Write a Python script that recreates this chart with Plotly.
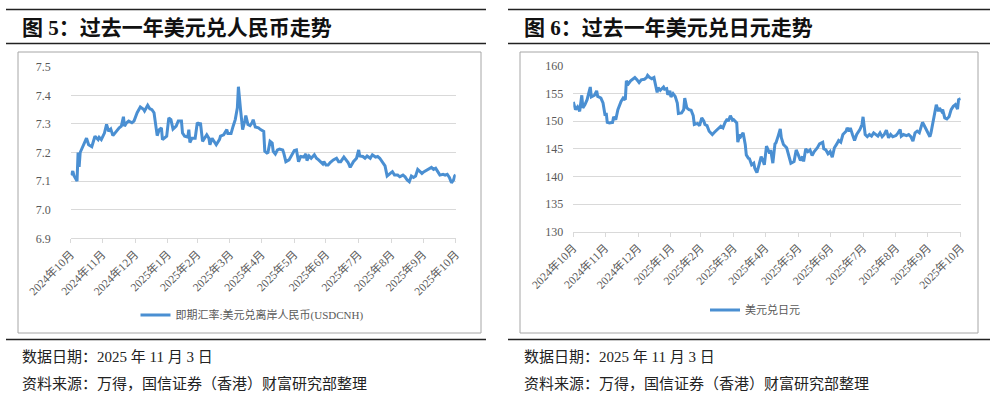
import pandas as pd
import plotly.graph_objects as go

W, H = 997, 398

# ---------------- data ----------------
start_date = "2024-10-31"
tick_labels = ["2024年10月", "2024年11月", "2024年12月", "2025年1月", "2025年2月", "2025年3月",
               "2025年4月", "2025年5月", "2025年6月", "2025年7月", "2025年8月", "2025年9月", "2025年10月"]

# day offsets from start_date and USDCNH values
cnh_day = [0, 2, 3, 6, 7, 8, 9, 11, 14, 15, 17, 20, 23, 26, 27, 29, 32, 34, 36, 38,
           40, 43, 46, 48, 50, 51, 53, 55, 58, 60, 63, 66, 69, 70, 73, 75, 77, 79, 82, 84,
           86, 87, 89, 91, 93, 95, 97, 100, 102, 105, 106, 108, 111, 112, 113, 115, 118, 120, 122, 123,
           125, 127, 129, 131, 132, 134, 136, 138, 141, 142, 145, 146, 148, 149, 152, 154, 156, 158, 159, 161,
           163, 165, 166, 168, 170, 172, 173, 175, 178, 180, 183, 184, 186, 187, 189, 191, 192, 194, 196, 198,
           201, 202, 204, 207, 210, 212, 214, 216, 218, 221, 223, 224, 226, 228, 231, 233, 235, 237, 239, 240,
           242, 244, 246, 249, 252, 254, 256, 259, 261, 263, 265, 268, 271, 273, 274, 277, 279, 281, 284, 286,
           289, 291, 293, 296, 298, 300, 303, 305, 307, 310, 312, 315, 317, 319, 321, 323, 325, 327, 329, 331,
           333, 335, 338, 340, 342, 344, 346, 348, 350, 353, 355, 357, 359, 361, 363, 364, 365]
cnh_val = [7.121, 7.135, 7.120, 7.100, 7.200, 7.150, 7.200, 7.215, 7.240, 7.250, 7.227, 7.220, 7.257, 7.245, 7.253, 7.245, 7.268, 7.298, 7.274, 7.282,
           7.259, 7.274, 7.286, 7.292, 7.325, 7.292, 7.304, 7.310, 7.304, 7.310, 7.339, 7.359, 7.351, 7.345, 7.365, 7.353, 7.350, 7.339, 7.259, 7.280,
           7.286, 7.245, 7.250, 7.257, 7.321, 7.315, 7.282, 7.292, 7.310, 7.310, 7.268, 7.257, 7.254, 7.280, 7.235, 7.250, 7.250, 7.304, 7.298, 7.304,
           7.239, 7.250, 7.262, 7.250, 7.227, 7.250, 7.239, 7.227, 7.245, 7.257, 7.262, 7.268, 7.280, 7.266, 7.266, 7.292, 7.315, 7.356, 7.430, 7.351,
           7.280, 7.310, 7.329, 7.298, 7.294, 7.304, 7.315, 7.289, 7.286, 7.280, 7.274, 7.204, 7.198, 7.200, 7.239, 7.233, 7.204, 7.195, 7.209, 7.212,
           7.209, 7.198, 7.168, 7.174, 7.192, 7.207, 7.209, 7.168, 7.186, 7.184, 7.195, 7.172, 7.188, 7.180, 7.192, 7.180, 7.174, 7.168, 7.160, 7.168,
           7.156, 7.156, 7.165, 7.174, 7.180, 7.168, 7.168, 7.184, 7.174, 7.165, 7.148, 7.168, 7.180, 7.209, 7.188, 7.186, 7.180, 7.188, 7.180, 7.192,
           7.184, 7.186, 7.180, 7.165, 7.153, 7.118, 7.127, 7.133, 7.121, 7.121, 7.115, 7.121, 7.115, 7.104, 7.098, 7.118, 7.113, 7.118, 7.141, 7.133,
           7.127, 7.133, 7.139, 7.145, 7.148, 7.141, 7.145, 7.133, 7.121, 7.124, 7.121, 7.124, 7.113, 7.094, 7.104, 7.118, 7.122]

# day offsets from start_date and USDJPY values
jpy_day = [0, 2, 4, 6, 8, 9, 11, 13, 16, 17, 20, 22, 23, 26, 28, 30, 31, 32, 34, 37,
           38, 40, 42, 45, 47, 49, 50, 52, 54, 56, 58, 60, 62, 64, 67, 69, 70, 72, 74, 76,
           77, 79, 80, 82, 85, 86, 88, 89, 91, 92, 94, 96, 98, 99, 102, 104, 105, 107, 109, 111,
           113, 114, 117, 119, 121, 123, 124, 126, 128, 131, 133, 135, 137, 139, 141, 143, 145, 146, 148, 150,
           151, 154, 155, 157, 158, 160, 162, 163, 165, 166, 168, 170, 171, 173, 175, 177, 179, 180, 182, 185,
           186, 188, 190, 191, 193, 195, 196, 198, 201, 203, 205, 208, 210, 212, 214, 216, 217, 219, 221, 223,
           225, 227, 230, 232, 235, 236, 238, 240, 242, 244, 246, 248, 250, 252, 254, 257, 258, 260, 261, 263,
           265, 267, 270, 272, 273, 275, 277, 279, 281, 283, 285, 287, 289, 291, 293, 295, 297, 299, 301, 304,
           306, 308, 309, 311, 314, 316, 318, 320, 322, 324, 326, 329, 331, 333, 336, 337, 339, 341, 342, 344,
           345, 347, 348, 350, 352, 354, 356, 358, 360, 362, 363, 365]
jpy_val = [153.5, 152.1, 152.6, 151.8, 154.7, 152.4, 153.0, 153.9, 156.2, 154.4, 154.7, 155.5, 154.5, 154.2, 153.3, 151.0, 151.5, 149.8, 149.7, 149.8,
           150.8, 150.3, 152.1, 153.6, 154.2, 153.9, 157.3, 156.8, 157.3, 157.6, 157.9, 157.5, 157.0, 157.5, 157.6, 157.9, 158.3, 157.9, 157.7, 157.9,
           157.1, 155.2, 156.1, 155.6, 156.2, 155.8, 155.9, 154.8, 155.5, 154.4, 155.0, 154.5, 153.3, 151.4, 151.5, 152.1, 154.2, 152.4, 152.1, 152.0,
           151.0, 149.4, 149.6, 149.2, 150.6, 150.0, 149.4, 149.2, 148.2, 147.6, 148.0, 148.4, 148.8, 149.1, 148.8, 149.8, 150.4, 150.0, 151.0, 150.2,
           150.3, 149.7, 146.2, 147.6, 147.3, 147.9, 145.8, 143.9, 143.3, 143.2, 142.1, 142.4, 141.5, 140.7, 142.1, 143.6, 142.7, 142.1, 145.5, 144.2,
           144.8, 142.4, 145.9, 146.1, 147.3, 148.6, 147.0, 145.8, 145.2, 143.9, 142.4, 142.7, 144.8, 143.9, 142.9, 143.6, 142.7, 145.0, 144.5, 144.8,
           143.8, 144.5, 145.2, 145.9, 146.2, 145.0, 144.8, 144.1, 144.5, 143.5, 145.2, 145.8, 146.5, 146.2, 147.6, 148.2, 148.8, 148.2, 148.8, 147.6,
           146.5, 147.6, 148.5, 149.4, 150.8, 147.6, 147.2, 147.6, 147.3, 147.9, 147.6, 147.3, 147.9, 147.2, 147.6, 148.4, 147.0, 147.6, 147.2, 147.4,
           147.9, 148.5, 147.3, 147.6, 147.4, 147.6, 147.2, 146.4, 147.9, 148.2, 147.9, 149.8, 149.1, 148.4, 147.2, 147.9, 150.0, 152.1, 153.0, 151.8,
           152.4, 151.8, 152.1, 150.6, 150.4, 150.8, 152.1, 152.7, 153.0, 152.2, 153.9, 154.1]

assert len(cnh_day) == len(cnh_val), (len(cnh_day), len(cnh_val))
assert len(jpy_day) == len(jpy_val), (len(jpy_day), len(jpy_val))

t0 = pd.Timestamp(start_date)
cnh_x = [t0 + pd.Timedelta(days=d) for d in cnh_day]
jpy_x = [t0 + pd.Timedelta(days=d) for d in jpy_day]
tick_dates = list(pd.date_range(start_date, periods=len(tick_labels), freq="ME"))

# ---------------- style ----------------
LINE = "#4A8FD2"
GRID = "#D9D9D9"
TXT = "#595959"
SERIF = "Liberation Serif, Noto Sans CJK SC"
CJK = "Liberation Serif, Noto Sans CJK SC"


def px(x):
    return x / W


def py(y):
    return 1 - y / H


fig = go.Figure()
fig.add_trace(go.Scatter(x=cnh_x, y=cnh_val, mode="lines", name="即期汇率:美元兑离岸人民币(USDCNH)",
                         line=dict(color=LINE, width=3), xaxis="x", yaxis="y", legend="legend"))
fig.add_trace(go.Scatter(x=jpy_x, y=jpy_val, mode="lines", name="美元兑日元",
                         line=dict(color=LINE, width=3), xaxis="x2", yaxis="y2", legend="legend2"))

xcommon = dict(type="date", range=[tick_dates[0], tick_dates[-1]], tickmode="array",
               tickvals=tick_dates, ticktext=tick_labels, tickangle=-45, automargin=False,
               showgrid=False, showline=True, linecolor=GRID, linewidth=1,
               ticks="outside", ticklen=4, tickcolor=GRID,
               tickfont=dict(family=CJK, size=11.5, color=TXT), zeroline=False, fixedrange=True)

fig.update_layout(
    width=W, height=H, margin=dict(l=0, r=0, t=0, b=0, autoexpand=False),
    paper_bgcolor="white", plot_bgcolor="white",
    xaxis=dict(domain=[px(70.7), px(455.7)], anchor="y", **xcommon),
    yaxis=dict(domain=[py(238.3), py(66.7)], anchor="x", range=[6.9, 7.5], dtick=0.1, tick0=6.9,
               tickformat=".1f", showgrid=True, gridcolor=GRID, gridwidth=1, zeroline=False,
               showline=False, ticks="", ticklabelstandoff=19, automargin=False,
               tickfont=dict(family=SERIF, size=12, color=TXT)),
    xaxis2=dict(domain=[px(573.3), px(960.7)], anchor="y2", **xcommon),
    yaxis2=dict(domain=[py(231.7), py(66)], anchor="x2", range=[130, 160], dtick=5, tick0=130,
                showgrid=True, gridcolor=GRID, gridwidth=1, zeroline=False,
                showline=False, ticks="", ticklabelstandoff=9, automargin=False,
                tickfont=dict(family=SERIF, size=12, color=TXT)),
    legend=dict(x=px(252), y=py(315), xanchor="center", yanchor="middle", orientation="h",
                font=dict(family=CJK, size=11, color=TXT), itemwidth=30, bgcolor="rgba(0,0,0,0)"),
    legend2=dict(x=px(755), y=py(310), xanchor="center", yanchor="middle", orientation="h",
                 font=dict(family=CJK, size=11, color=TXT), itemwidth=30, bgcolor="rgba(0,0,0,0)"),
    showlegend=True,
)

shapes = []
annotations = []
for (x0, x1, bx0, bx1, num, title, tx) in [
    (6, 486, 18, 481, "5", "过去一年美元兑人民币走势", 20),
    (508, 990, 520, 978, "6", "过去一年美元兑日元走势", 522),
]:
    # header rules
    shapes.append(dict(type="line", xref="paper", yref="paper", x0=px(x0), x1=px(x1), y0=py(9.5), y1=py(9.5),
                       line=dict(color="#222222", width=1.5)))
    shapes.append(dict(type="line", xref="paper", yref="paper", x0=px(x0), x1=px(x1), y0=py(43.5), y1=py(43.5),
                       line=dict(color="#222222", width=1.5)))
    # chart box
    shapes.append(dict(type="rect", xref="paper", yref="paper", x0=px(bx0), x1=px(bx1), y0=py(333), y1=py(52),
                       line=dict(color="#A6A6A6", width=1), fillcolor="rgba(0,0,0,0)", layer="below"))
    # footer rule
    shapes.append(dict(type="line", xref="paper", yref="paper", x0=px(x0), x1=px(x1), y0=py(339.5), y1=py(339.5),
                       line=dict(color="#222222", width=1.5)))
    annotations.append(dict(xref="paper", yref="paper", x=px(tx), y=py(28), xanchor="left", yanchor="middle",
                            text="<b>图 " + num + "：" + title + "</b>", showarrow=False,
                            font=dict(family=CJK, size=21, color="#111111")))
    annotations.append(dict(xref="paper", yref="paper", x=px(tx), y=py(357), xanchor="left", yanchor="middle",
                            text="数据日期：2025 年 11 月 3 日", showarrow=False,
                            font=dict(family=CJK, size=15, color="#222222")))
    annotations.append(dict(xref="paper", yref="paper", x=px(tx), y=py(383), xanchor="left", yanchor="middle",
                            text="资料来源：万得，国信证券（香港）财富研究部整理", showarrow=False,
                            font=dict(family=CJK, size=15, color="#222222")))

fig.update_layout(shapes=shapes, annotations=annotations)
fig.write_html("out.html", config={"displayModeBar": False, "staticPlot": True},
               post_script="document.body.style.margin='0';document.body.style.overflow='hidden';")
